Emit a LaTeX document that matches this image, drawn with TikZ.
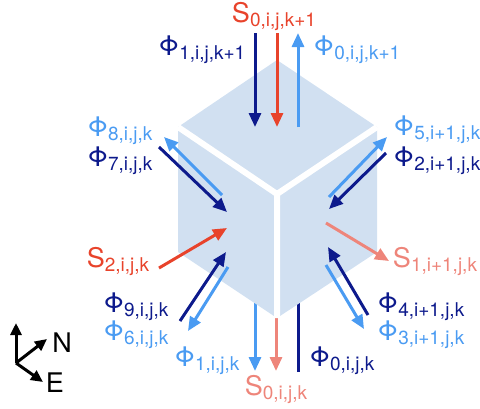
\documentclass[tikz,border=0pt]{standalone}
\usepackage{fontspec}
\setmainfont{TeX Gyre Heros}
\usetikzlibrary{arrows.meta}
\definecolor{navy}{HTML}{0D1A8C}
\definecolor{sky}{HTML}{4A9BF2}
\definecolor{vermil}{HTML}{E8432B}
\definecolor{salmon}{HTML}{EE857A}
\definecolor{cubefill}{HTML}{D1E0F1}
\newcommand\ix[1]{\raisebox{-4pt}{\fontsize{19pt}{19pt}\selectfont #1}}
\begin{document}
\begin{tikzpicture}[x=1pt,y=-1pt,
    flux/.style={line width=3pt,-{Triangle[length=14pt,width=12pt]}},
    lab/.style={inner sep=0,font=\fontsize{27pt}{27pt}\selectfont}]
  \useasboundingbox (0,0) rectangle (480,408);
  % arrows below the cube
  \coordinate (b1s) at (255,285); \coordinate (b1e) at (255,371);
  \coordinate (b0s) at (276,300); \coordinate (b0e) at (276,371);
  \coordinate (b2s) at (298,372); \coordinate (b2e) at (298,285);
  \draw[flux,sky] (b1s) -- (b1e);
  \draw[flux,salmon] (b0s) -- (b0e);
  \draw[flux,navy] (b2s) -- (b2e);
  % cube
  \coordinate (T) at (277,60);   \coordinate (TR) at (377,127);
  \coordinate (BR) at (377,252); \coordinate (B) at (277,318);
  \coordinate (BL) at (178,252); \coordinate (TL) at (178,127);
  \coordinate (C) at (277,194);
  \fill[cubefill] (T) -- (TR) -- (BR) -- (B) -- (BL) -- (TL) -- cycle;
  \draw[white,line width=6pt] (TL) -- (C) -- (TR) (C) -- (B);
  % top
  \coordinate (t1s) at (255,33);  \coordinate (t1e) at (255,127);
  \coordinate (t0s) at (277,33);  \coordinate (t0e) at (277,127);
  \coordinate (t2s) at (298,127); \coordinate (t2e) at (298,33);
  \draw[flux,navy] (t1s) -- (t1e);
  \draw[flux,vermil] (t0s) -- (t0e);
  \draw[flux,sky] (t2s) -- (t2e);
  % left
  \coordinate (l8s) at (222,195); \coordinate (l8e) at (164,137);
  \coordinate (l7s) at (159,147); \coordinate (l7e) at (227,212);
  \coordinate (l2s) at (159,268); \coordinate (l2e) at (227,228);
  \coordinate (l9s) at (180,321); \coordinate (l9e) at (226,252);
  \coordinate (l6s) at (228,267); \coordinate (l6e) at (188,331);
  \draw[flux,sky] (l8s) -- (l8e);
  \draw[flux,navy] (l7s) -- (l7e);
  \draw[flux,vermil] (l2s) -- (l2e);
  \draw[flux,navy] (l9s) -- (l9e);
  \draw[flux,sky] (l6s) -- (l6e);
  % right
  \coordinate (r5s) at (329,197); \coordinate (r5e) at (387,137);
  \coordinate (r2s) at (386,153); \coordinate (r2e) at (329,209);
  \coordinate (r1s) at (326,223); \coordinate (r1e) at (389,261);
  \coordinate (r4s) at (368,315); \coordinate (r4e) at (328,247);
  \coordinate (r3s) at (326,265); \coordinate (r3e) at (364,329);
  \draw[flux,sky] (r5s) -- (r5e);
  \draw[flux,navy] (r2s) -- (r2e);
  \draw[flux,salmon] (r1s) -- (r1e);
  \draw[flux,navy] (r4s) -- (r4e);
  \draw[flux,sky] (r3s) -- (r3e);
  % labels
  \node[lab,vermil] (s0top) at (274,16) {S\ix{0,i,j,k+1}};
  \node[lab,navy] (p1top) at (202,50) {Φ\ix{1,i,j,k+1}};
  \node[lab,sky] (p0top) at (357,50) {Φ\ix{0,i,j,k+1}};
  \node[lab,sky] (p8) at (120,131) {Φ\ix{8,i,j,k}};
  \node[lab,navy] (p7) at (120,161) {Φ\ix{7,i,j,k}};
  \node[lab,vermil] (s2) at (118,261) {S\ix{2,i,j,k}};
  \node[lab,navy] (p9) at (136,307) {Φ\ix{9,i,j,k}};
  \node[lab,sky] (p6) at (136,335) {Φ\ix{6,i,j,k}};
  \node[lab,sky] (p1) at (207,361) {Φ\ix{1,i,j,k}};
  \node[lab,salmon] (s0) at (276,389) {S\ix{0,i,j,k}};
  \node[lab,navy] (p0) at (342,361) {Φ\ix{0,i,j,k}};
  \node[lab,navy] (p4) at (421,307) {Φ\ix{4,i+1,j,k}};
  \node[lab,sky] (p3) at (421,335) {Φ\ix{3,i+1,j,k}};
  \node[lab,sky] (p5) at (437,130) {Φ\ix{5,i+1,j,k}};
  \node[lab,navy] (p2) at (437,161) {Φ\ix{2,i+1,j,k}};
  \node[lab,salmon] (s1) at (435,261) {S\ix{1,i+1,j,k}};
  % compass
  \coordinate (o) at (16,363);
  \coordinate (up) at (16,323);
  \coordinate (north) at (47,339);
  \coordinate (east) at (43,382);
  \draw[line width=3pt,-{Triangle[length=12pt,width=11pt]}] (o) -- (up);
  \draw[line width=3pt,-{Triangle[length=12pt,width=11pt]}] (o) -- (north);
  \draw[line width=3pt,-{Triangle[length=12pt,width=11pt]}] (o) -- (east);
  \node[lab] (N) at (62,343) {N};
  \node[lab] (E) at (55,383) {E};
\end{tikzpicture}
\end{document}
